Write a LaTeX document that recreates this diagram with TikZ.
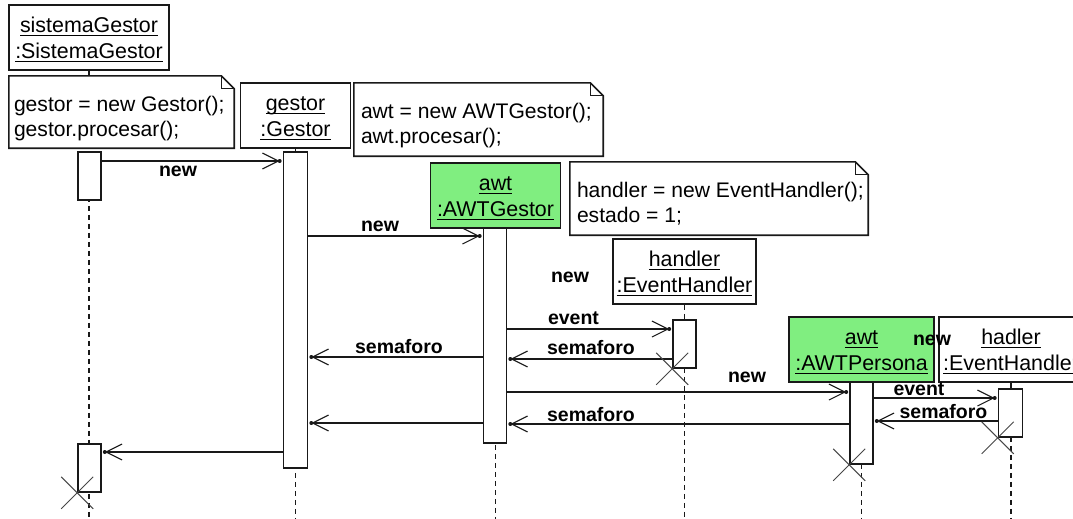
\documentclass[tikz,border=0pt]{standalone}
\usepackage{fontspec}
\setmainfont{Liberation Sans}
\usetikzlibrary{arrows.meta,decorations.markings}
\definecolor{awtgreen}{RGB}{128,238,128}
\definecolor{ink}{RGB}{25,25,25}
% underlined object name with a rule a little below the baseline
\newcommand\uln[1]{\setbox0\hbox{#1}\rlap{\rule[-3.5pt]{\wd0}{1.3pt}}\box0}
\newcommand\objname[2]{\rule{0pt}{20pt}\uln{#1}\\\uln{#2}}
\begin{document}
\begin{tikzpicture}[x=1pt,y=-1pt,
  objbox/.style={draw=ink, line width=1.6pt, fill=white, inner sep=0pt, align=center,
    minimum height=65pt, font=\fontsize{21.4}{26}\selectfont},
  act/.style={draw=ink, line width=1.6pt, fill=white, inner sep=0pt, minimum width=23pt},
  notebg/.style={fill=white, inner sep=0pt},
  noteedge/.style={draw=ink, line width=1.6pt, line join=miter},
  foldedge/.style={draw=ink, line width=1.2pt},
  notetext/.style={inner sep=0pt, align=left, anchor=north west, font=\fontsize{21.1}{25}\selectfont},
  lifeline/.style={draw=ink, line width=1.5pt, dash pattern=on 5pt off 4pt},
  msg/.style={draw=ink, line width=1.5pt, -{Straight Barb[length=16pt,width=16pt,line width=1.1pt]},
    shorten >=3pt,
    postaction={decorate, decoration={markings, mark=at position -3pt with {\fill[ink] circle (2pt);}}}},
  lbl/.style={font=\bfseries\fontsize{19.5}{22}\selectfont, inner sep=0pt, anchor=base},
  xmark/.style={draw=ink!80, line width=1pt}
]
\fill[white] (0,0) rectangle (1073,519);
\useasboundingbox (0,0) rectangle (1073,519);
\coordinate (bottom) at (0,519);

% object heads
\node[objbox, minimum width=160pt] (sg) at (89,37.5) {\objname{sistemaGestor}{:SistemaGestor}};
\node[objbox, minimum width=110pt] (gs) at (295.5,115.5) {\objname{gestor}{:Gestor}};
\node[objbox, fill=awtgreen, minimum width=130pt] (ag) at (495.5,195.5) {\objname{awt}{:AWTGestor}};
\node[objbox, minimum width=143pt] (hd) at (684.5,271.5) {\objname{handler}{:EventHandler}};
\node[objbox, fill=awtgreen, minimum width=145pt] (ap) at (861.5,349.5) {\objname{awt}{:AWTPersona}};
\node[objbox, minimum width=144pt] (hl) at (1011,349.5) {\objname{hadler}{:EventHandler}};

% lifelines
\foreach \o in {sg,gs,ag,hd,ap,hl}
  \draw[lifeline] (\o.south) -- (\o.south |- bottom);

% notes with a folded corner
\node[notebg, minimum width=225pt, minimum height=72pt] (n1) at (121.5,112) {};
\node[notebg, minimum width=249pt, minimum height=73pt] (n2) at (478.5,119.5) {};
\node[notebg, minimum width=298pt, minimum height=73pt] (n3) at (719,198.5) {};
\foreach \n in {n1,n2,n3}{
  \draw[noteedge] (\n.south west) -- (\n.north west) -- ([xshift=-13pt]\n.north east)
    -- ([yshift=-13pt]\n.north east) -- (\n.south east) -- cycle;
  \draw[foldedge] ([xshift=-13pt]\n.north east) |- ([yshift=-13pt]\n.north east);
}
\node[notetext] (t1) at ([xshift=5pt,yshift=-20.5pt]n1.north west) {gestor = new Gestor();\\gestor.procesar();};
\node[notetext] (t2) at ([xshift=7pt,yshift=-20pt]n2.north west) {awt = new AWTGestor();\\awt.procesar();};
\node[notetext] (t3) at ([xshift=7pt,yshift=-20pt]n3.north west) {handler = new EventHandler();\\estado = 1;};

% activation bars
\node[act, minimum height=48pt] (a1) at (89.5,176) {};
\node[act, minimum height=48pt] (a1b) at (89.5,468) {};
\node[act, minimum width=24pt, minimum height=316pt] (a2) at (295.5,310) {};
\node[act, minimum height=215pt] (a3) at (495,335.5) {};
\node[act, minimum height=48pt] (a4) at (684.5,344) {};
\node[act, minimum height=82pt] (a5) at (861.5,423) {};
\node[act, minimum width=24pt, minimum height=48pt] (a6) at (1010.5,413) {};

% messages
\draw[msg] (a1.east |- 0,161) -- (a2.west |- 0,161);
\draw[msg] (a2.east |- 0,236) -- (a3.west |- 0,236);
\draw[msg] (a3.east |- 0,329) -- (a4.west |- 0,329);
\draw[msg] (a4.west |- 0,359) -- (a3.east |- 0,359);
\draw[msg] (a3.west |- 0,357) -- (a2.east |- 0,357);
\draw[msg] (a3.east |- 0,392) -- (a5.west |- 0,392);
\draw[msg] (a5.west |- 0,424) -- (a3.east |- 0,424);
\draw[msg] (a3.west |- 0,423) -- (a2.east |- 0,423);
\draw[msg] (a2.west |- 0,452) -- (a1b.east |- 0,452);
\draw[msg] (a5.east |- 0,398) -- (a6.west |- 0,398);
\draw[msg] (a6.west |- 0,421) -- (a5.east |- 0,421);

% message labels
\node[lbl] (l1) at (178,176) {new};
\node[lbl] (l2) at (380,231) {new};
\node[lbl] (l3) at (570,282) {new};
\node[lbl] (l4) at (573.5,324) {event};
\node[lbl] (l5) at (591,354) {semaforo};
\node[lbl] (l6) at (399,353) {semaforo};
\node[lbl] (l7) at (747,382) {new};
\node[lbl] (l8) at (591,421) {semaforo};
\node[lbl] (l9) at (932,345) {new};
\node[lbl] (l10) at (919,395) {event};
\node[lbl] (l11) at (943.5,418) {semaforo};

% destruction marks
\foreach \a in {a1b,a4,a5,a6}{
  \draw[xmark] ([shift={(-16pt,16pt)}]\a.south west) -- ([shift={(16pt,-16pt)}]\a.south west);
  \draw[xmark] ([shift={(-16pt,-16pt)}]\a.south west) -- ([shift={(16pt,16pt)}]\a.south west);
}
\end{tikzpicture}
\end{document}
